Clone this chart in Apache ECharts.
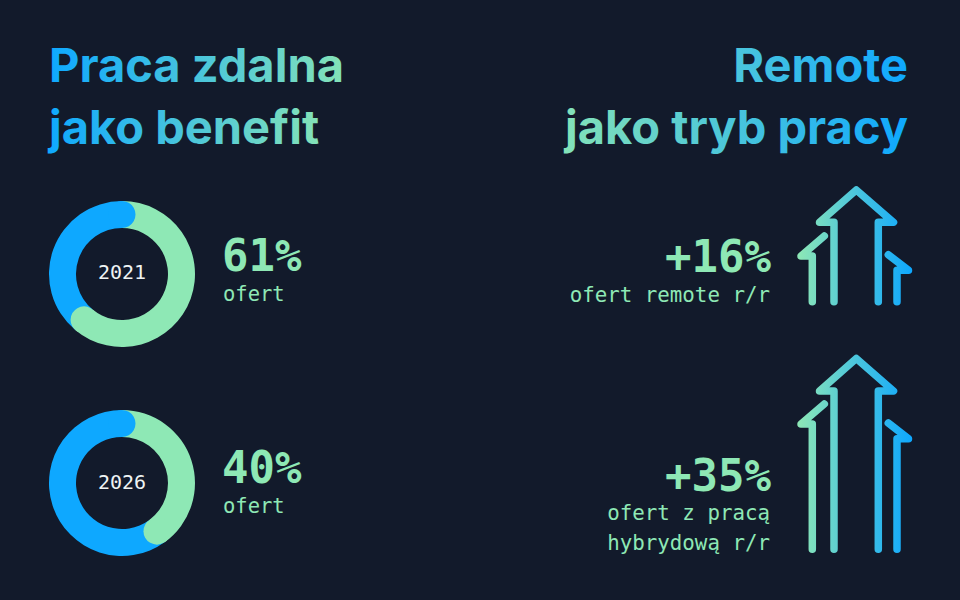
<!DOCTYPE html>
<html><head><meta charset="utf-8">
<style>html,body{margin:0;padding:0;background:#121a2b}#c{width:960px;height:600px}</style>
<script src="https://cdn.jsdelivr.net/npm/echarts@6/dist/echarts.min.js"></script>
</head><body><div id="c"></div>
<script>
const years = ['2021', '2026'];
const benefitShare = [61, 40];
const otherShare = [39, 60];
const benefitLabels = ['61%', '40%'];
const benefitNote = 'ofert';
const remoteLabels = ['+16%', '+35%'];
const remoteNotes = [['ofert remote r/r'], ['ofert z pracą', 'hybrydową r/r']];
const leftTitle = ['Praca zdalna', 'jako benefit'];
const rightTitle = ['Remote', 'jako tryb pracy'];

const BG = '#121a2b', GREEN = '#8ee8b5', BLUE = '#0ea8ff', WHITE = '#eef3f3';
const TITLEGREEN = '#84e2b8';
const ringCenters = [[122, 274], [122, 483]];
const MONO = '"DejaVu Sans Mono"', HEAD = 'Inter';

const chart = echarts.init(document.getElementById('c'), null, {renderer: 'svg', width: 960, height: 600});
const txt = (text, x, y, font, fill, align) => ({type: 'text', silent: true, z: 10,
  style: {text, x, y, font, fill, textAlign: align || 'left', textVerticalAlign: 'middle'}});

const series = [], polar = [], angleAxis = [], radiusAxis = [];
years.forEach((y, i) => {
  polar.push({center: ringCenters[i], radius: 73});
  angleAxis.push({polarIndex: i, type: 'value', min: 0, max: 100, startAngle: 90, show: false});
  radiusAxis.push({polarIndex: i, type: 'value', min: 0, max: 73, show: false});
  series.push({type: 'pie', name: y, center: ringCenters[i], radius: [46, 73], startAngle: 90,
    silent: true, label: {show: false}, labelLine: {show: false}, z: 2,
    data: [{name: 'benefit', value: benefitShare[i], itemStyle: {color: GREEN}},
           {name: 'inne', value: otherShare[i], itemStyle: {color: BLUE}}]});
  series.push({type: 'scatter', coordinateSystem: 'polar', polarIndex: i, symbolSize: 27, silent: true, z: 3,
    itemStyle: {color: BLUE, opacity: 1}, data: [[59.5, 0]]});
  series.push({type: 'scatter', coordinateSystem: 'polar', polarIndex: i, symbolSize: 27, silent: true, z: 4,
    itemStyle: {color: GREEN, opacity: 1}, data: [[59.5, benefitShare[i]]]});
});

const arrowGrad = () => new echarts.graphic.LinearGradient(797, 0, 912, 0,
  [{offset: 0, color: '#8ee8b5'}, {offset: 0.5, color: '#4cc6dc'}, {offset: 1, color: '#0ea8ff'}], true);
const arrow = (tipY, shY, lY, rTopY, rY, botY) => [
  [[834, botY], [834, shY], [819.5, shY], [856.3, tipY], [893.5, shY], [878.3, shY], [878.3, botY]],
  [[812.3, botY], [812.3, lY], [801, lY], [824.3, lY - 20]],
  [[897, botY], [897, rY], [908.5, rY], [888.3, rTopY]]
].map(points => ({type: 'polyline', silent: true, z: 5,
  shape: {points},
  style: {fill: null, stroke: arrowGrad(), lineWidth: 7.5, lineCap: 'round', lineJoin: 'round'}}));

const graphicEls = [
  txt(leftTitle[0], 49, 64, '700 47px ' + HEAD, TITLEGREEN),
  txt(leftTitle[1], 49, 126, '700 47px ' + HEAD, TITLEGREEN),
  txt(rightTitle[0], 908, 64, '700 47px ' + HEAD, BLUE, 'right'),
  txt(rightTitle[1], 908, 126, '700 47px ' + HEAD, BLUE, 'right'),
  txt(years[0], 122, 272, '20px ' + MONO, WHITE, 'center'),
  txt(years[1], 122, 482, '20px ' + MONO, WHITE, 'center'),
  txt(benefitLabels[0], 222, 255, '700 44px ' + MONO, GREEN),
  txt(benefitNote, 223, 294, '20.5px ' + MONO, GREEN),
  txt(benefitLabels[1], 222, 467, '700 44px ' + MONO, GREEN),
  txt(benefitNote, 223, 506, '20.5px ' + MONO, GREEN),
  txt(remoteLabels[0], 771, 256, '700 44px ' + MONO, GREEN, 'right'),
  txt(remoteNotes[0][0], 770, 295, '20.8px ' + MONO, GREEN, 'right'),
  txt(remoteLabels[1], 771, 475, '700 44px ' + MONO, GREEN, 'right'),
  txt(remoteNotes[1][0], 770, 513, '20.8px ' + MONO, GREEN, 'right'),
  txt(remoteNotes[1][1], 770, 543, '20.8px ' + MONO, GREEN, 'right'),
  ...arrow(190, 222.3, 256, 254.7, 270.3, 301.7),
  ...arrow(358.5, 391, 424, 423, 438.7, 549.3)
];

chart.setOption({
  backgroundColor: BG, animation: false,
  polar, angleAxis, radiusAxis, series,
  graphic: {elements: graphicEls}
});

// ECharts text has no gradient fill, so the headline fills are attached to the rendered SVG text.
const titleFills = [
  [leftTitle[0], BLUE, TITLEGREEN], [leftTitle[1], BLUE, TITLEGREEN],
  [rightTitle[0], '#4cc6dc', BLUE], [rightTitle[1], TITLEGREEN, BLUE]
];
function applyTitleFills() {
  const svg = chart.getDom().querySelector('svg');
  if (!svg) return;
  const NS = 'http://www.w3.org/2000/svg';
  let defs = svg.querySelector('defs');
  if (!defs) { defs = document.createElementNS(NS, 'defs'); svg.insertBefore(defs, svg.firstChild); }
  titleFills.forEach(([line, a, b], i) => {
    const id = 'titleGrad' + i;
    if (!svg.getElementById(id)) {
      const g = document.createElementNS(NS, 'linearGradient');
      g.setAttribute('id', id);
      [[0, a], [1, b]].forEach(([o, c]) => {
        const s = document.createElementNS(NS, 'stop');
        s.setAttribute('offset', o); s.setAttribute('stop-color', c); g.appendChild(s);
      });
      defs.appendChild(g);
    }
    svg.querySelectorAll('text').forEach(t => {
      if (t.textContent === line) t.setAttribute('fill', 'url(#' + id + ')');
    });
  });
}
applyTitleFills();
chart.on('finished', applyTitleFills);
</script></body></html>
